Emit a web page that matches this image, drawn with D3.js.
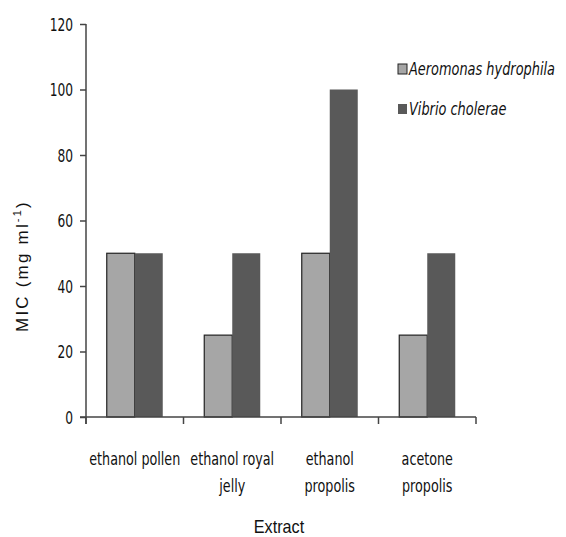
<!DOCTYPE html>
<html>
<head>
<meta charset="utf-8">
<script src="https://cdn.jsdelivr.net/npm/d3@7"></script>
<style>
  body { margin: 0; background: #fff; }
  svg text { fill: #111; }
</style>
</head>
<body>
<svg id="chart" width="566" height="537"></svg>
<script>
// values
const categories = [["ethanol pollen"], ["ethanol royal", "jelly"], ["ethanol", "propolis"], ["acetone", "propolis"]];
const seriesNames = ["Aeromonas hydrophila", "Vibrio cholerae"];
const aeromonas = [50, 25, 50, 25];
const vibrio = [50, 50, 100, 50];
const yTicks = [0, 20, 40, 60, 80, 100, 120];

const colors = ["#a6a6a6", "#595959"];
const sans = "'DejaVu Sans', sans-serif";

const svg = d3.select("#chart");

const plotLeft = 86, plotRight = 476, plotTop = 24, plotBottom = 417;

// squeeze text horizontally, the source uses a narrow font
function condense(sel, k) {
    sel.each(function () {
        var t = d3.select(this);
        var x = +t.attr("x") || 0;
        var old = t.attr("transform") || "";
        t.attr("x", x / k)
            .attr("transform", old + " scale(" + k + ",1)");
    });
}

const x0 = d3.scaleBand()
    .domain(d3.range(categories.length))
    .range([plotLeft, plotRight]);

const x1 = d3.scaleBand()
    .domain(seriesNames)
    .range([20.75, x0.bandwidth() - 20.75]);

const y = d3.scaleLinear()
    .domain([0, 120])
    .range([plotBottom, plotTop]);

var rows = [];
for (let i = 0; i < categories.length; i++) {
    rows.push({ i: i, s: seriesNames[0], v: aeromonas[i], c: colors[0] });
    rows.push({ i: i, s: seriesNames[1], v: vibrio[i], c: colors[1] });
}

// bars
svg.selectAll("rect.bar")
    .data(rows)
    .enter()
    .append("rect")
    .attr("class", "bar")
    .attr("x", d => x0(d.i) + x1(d.s))
    .attr("y", d => y(d.v))
    .attr("width", x1.bandwidth())
    .attr("height", d => y(0) - y(d.v))
    .style("fill", d => d.c)
    .style("stroke", d => d.s === seriesNames[0] ? "#222" : "none")
    .style("stroke-width", 1.2);

// y axis
const yAxis = svg.append("g")
    .attr("transform", "translate(" + plotLeft + ",0)")
    .call(d3.axisLeft(y).tickValues(yTicks).tickSize(6).tickSizeOuter(0));
yAxis.select(".domain").attr("stroke", "#444").attr("stroke-width", 1.5)
    .attr("d", "M0," + plotTop + "V" + (plotBottom + 7));
yAxis.selectAll(".tick line").attr("stroke", "#444").attr("stroke-width", 1.5);
yAxis.selectAll(".tick text")
    .attr("x", -13)
    .attr("dy", "0.36em")
    .style("font-family", sans)
    .style("font-size", "17px")
    .style("fill", "#111")
    .call(condense, 0.72);

// x axis
const xAxis = svg.append("g")
    .attr("transform", "translate(0," + plotBottom + ")");
xAxis.append("path")
    .attr("d", "M" + (plotLeft - 6) + ",0H" + plotRight)
    .attr("stroke", "#444")
    .attr("stroke-width", 1.5);
const edges = x0.domain().map(d => x0(d)).concat([plotRight]);
xAxis.selectAll("line.sep")
    .data(edges)
    .enter()
    .append("line")
    .attr("class", "sep")
    .attr("x1", d => d).attr("x2", d => d)
    .attr("y1", 0).attr("y2", 7)
    .attr("stroke", "#444")
    .attr("stroke-width", 1.5);

const catLabels = xAxis.selectAll("g.cat")
    .data(categories)
    .enter()
    .append("g")
    .attr("class", "cat")
    .attr("transform", (d, i) => "translate(" + (x0(i) + x0.bandwidth() / 2) + ",0)");
catLabels.selectAll("text")
    .data(d => d)
    .enter()
    .append("text")
    .attr("text-anchor", "middle")
    .attr("y", (d, j) => 48 + j * 27)
    .style("font-family", sans)
    .style("font-size", "17px")
    .text(d => d)
    .call(condense, 0.75);

// axis titles
svg.append("text")
    .attr("transform", "translate(28,266) rotate(-90)")
    .attr("text-anchor", "middle")
    .style("font-family", "'Liberation Sans', Arial, sans-serif")
    .style("font-size", "17px")
    .style("letter-spacing", "2.2px")
    .html("MIC (mg ml<tspan dy='-7' font-size='11px'>-1</tspan><tspan dy='7'>)</tspan>");

svg.append("text")
    .attr("x", 279)
    .attr("y", 533)
    .attr("text-anchor", "middle")
    .style("font-family", "'Liberation Sans', Arial, sans-serif")
    .style("font-size", "18px")
    .text("Extract")
    .call(condense, 0.9);

// legend
const legend = svg.selectAll("g.legend")
    .data(seriesNames)
    .enter()
    .append("g")
    .attr("class", "legend")
    .attr("transform", (d, i) => "translate(398," + (64 + i * 40) + ")");
legend.append("rect")
    .attr("width", 9)
    .attr("height", 10)
    .style("fill", (d, i) => colors[i])
    .style("stroke", (d, i) => i === 0 ? "#222" : "none")
    .style("stroke-width", 1);
legend.append("text")
    .attr("x", 11)
    .attr("y", 11)
    .style("font-family", sans)
    .style("font-style", "italic")
    .style("font-size", "17px")
    .text(d => d)
    .call(condense, 0.76);
</script>
</body>
</html>
